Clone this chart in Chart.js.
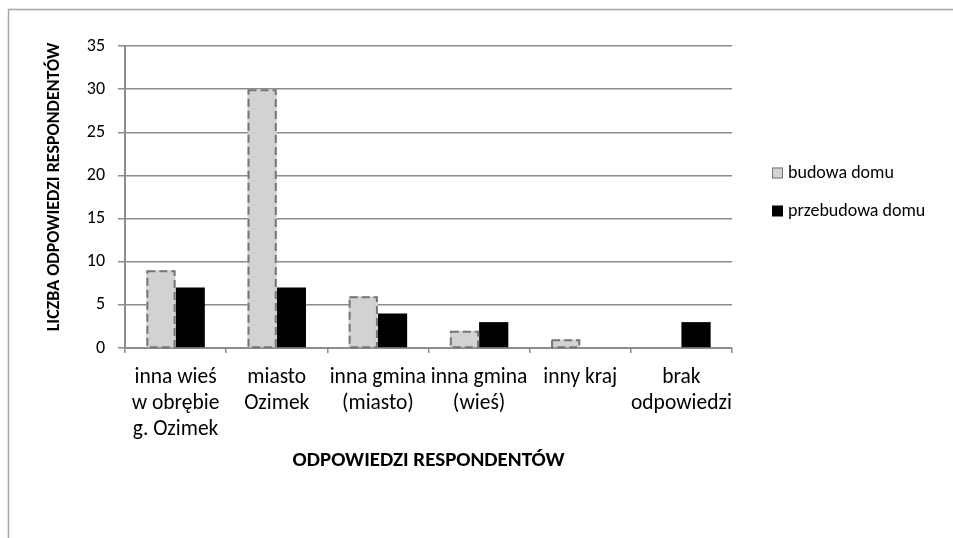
<!DOCTYPE html>
<html>
<head>
<meta charset="utf-8">
<script src="https://cdn.jsdelivr.net/npm/chart.js@4.4.1/dist/chart.umd.min.js"></script>
<style>
  html, body { margin: 0; padding: 0; background: #ffffff; }
  #wrap { width: 953px; height: 538px; position: relative; overflow: hidden; }
</style>
</head>
<body>
<div id="wrap"><canvas id="chart" width="953" height="538"></canvas></div>
<script>
// Answers grouped by destination category (multi-line axis labels)
const categories = [
  ["inna wieś", "w obrębie", "g. Ozimek"],
  ["miasto", "Ozimek"],
  ["inna gmina", "(miasto)"],
  ["inna gmina", "(wieś)"],
  ["inny kraj"],
  ["brak", "odpowiedzi"]
];
const seriesNames = ["budowa domu", "przebudowa domu"];
const budowaDomu = [9, 30, 6, 2, 1, 0];
const przebudowaDomu = [7, 7, 4, 3, 0, 3];
const yTicks = [0, 5, 10, 15, 20, 25, 30, 35];
const xTitle = "ODPOWIEDZI RESPONDENTÓW";
const yTitle = "LICZBA ODPOWIEDZI RESPONDENTÓW";

const FONT = "Carlito, Lato, 'Open Sans', sans-serif";
const GRID = "#8c8c8c";
const LIGHT = "#d2d2d2";
const DASH = "#767676";

// Outer chart frame
const framePlugin = {
  id: "frame",
  beforeDraw(chart) {
    const ctx = chart.ctx;
    ctx.save();
    ctx.strokeStyle = "#a8a8a8";
    ctx.lineWidth = 1.5;
    ctx.strokeRect(8.5, 9.5, 1200, 1200);
    ctx.restore();
  }
};

// Dashed outline around the light bars
const dashedBars = {
  id: "dashedBars",
  afterDatasetsDraw(chart) {
    const ctx = chart.ctx;
    const meta = chart.getDatasetMeta(0);
    const values = chart.data.datasets[0].data;
    ctx.save();
    ctx.strokeStyle = DASH;
    ctx.lineWidth = 2;
    ctx.setLineDash([8, 4]);
    meta.data.forEach((bar, i) => {
      if (!values[i]) return;
      const p = bar.getProps(["x", "y", "base", "width"], true);
      const left = p.x - p.width / 2;
      ctx.strokeRect(left + 1, p.y + 1, p.width - 2, p.base - p.y - 1);
    });
    ctx.restore();
  }
};

// Legend on the right and both axis titles
const sideDecor = {
  id: "sideDecor",
  afterDraw(chart) {
    const ctx = chart.ctx;
    const area = chart.chartArea;
    ctx.save();
    // legend
    const ds = chart.data.datasets;
    const rows = [173, 211];
    ctx.font = "18px " + FONT;
    ctx.textBaseline = "middle";
    ctx.textAlign = "left";
    ds.forEach((d, i) => {
      const cy = rows[i];
      ctx.fillStyle = d.backgroundColor;
      ctx.fillRect(772, cy - 5.5, 11, 11);
      if (i === 0) {
        ctx.strokeStyle = DASH;
        ctx.lineWidth = 1;
        ctx.strokeRect(772.5, cy - 5, 10, 10);
      }
      ctx.fillStyle = "#000";
      ctx.fillText(d.label, 788, cy);
    });
    // x axis title
    ctx.font = "bold 21px " + FONT;
    ctx.textAlign = "center";
    ctx.fillText(xTitle, (area.left + area.right) / 2, 461);
    // y axis title
    ctx.translate(54, 187);
    ctx.rotate(-Math.PI / 2);
    ctx.font = "bold 18px " + FONT;
    ctx.fillText(yTitle, 0, 0);
    ctx.restore();
  }
};

new Chart(document.getElementById("chart"), {
  type: "bar",
  data: {
    labels: categories,
    datasets: [
      { label: seriesNames[0], data: budowaDomu, backgroundColor: LIGHT, borderWidth: 0 },
      { label: seriesNames[1], data: przebudowaDomu, backgroundColor: "#000000", borderWidth: 0 }
    ]
  },
  options: {
    responsive: false,
    animation: false,
    devicePixelRatio: 1,
    layout: { padding: { left: 0, right: 221, top: 46, bottom: 0 } },
    datasets: { bar: { categoryPercentage: 0.578, barPercentage: 1 } },
    plugins: { legend: { display: false }, tooltip: { enabled: false } },
    scales: {
      x: {
        type: "category",
        offset: true,
        grid: { offset: true, drawOnChartArea: false, tickLength: 5, color: GRID, lineWidth: 1.5 },
        border: { color: GRID, width: 2 },
        ticks: {
          color: "#000",
          padding: 12,
          maxRotation: 0,
          autoSkip: false,
          font: { family: FONT, size: 21.5, lineHeight: 26 / 21.5 }
        },
        afterFit(scale) { scale.height = 190; }
      },
      y: {
        min: 0,
        max: 35,
        afterBuildTicks(scale) { scale.ticks = yTicks.map(v => ({ value: v })); },
        grid: { color: GRID, lineWidth: 1.5, tickLength: 7 },
        border: { color: GRID, width: 2 },
        ticks: {
          color: "#000",
          padding: 13,
          font: { family: FONT, size: 18 }
        },
        afterFit(scale) { scale.width = 125; }
      }
    }
  },
  plugins: [framePlugin, dashedBars, sideDecor]
});
</script>
</body>
</html>
